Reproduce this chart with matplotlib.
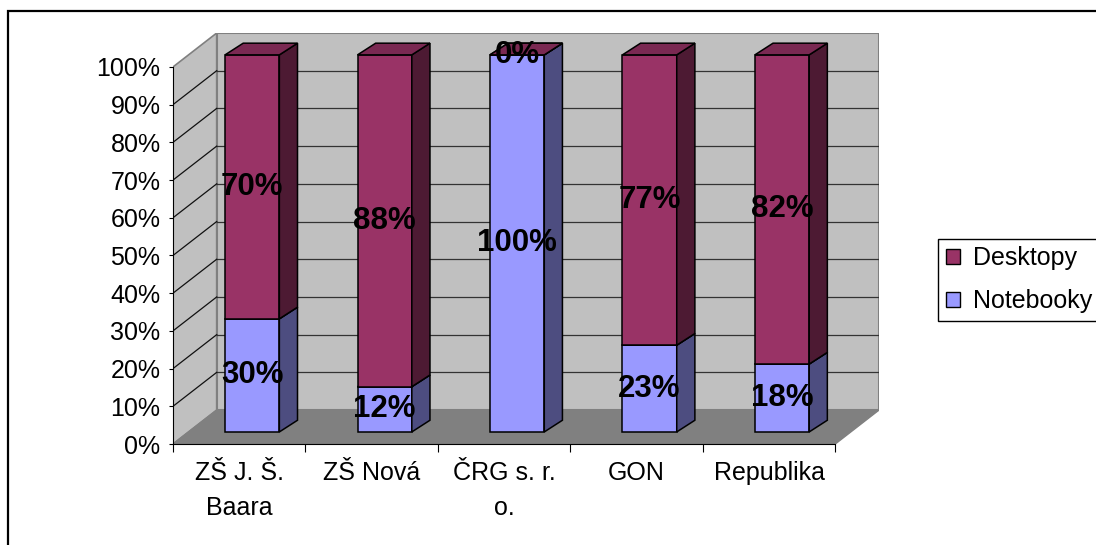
import numpy as np
import matplotlib
matplotlib.use('Agg')
import matplotlib.pyplot as plt
from matplotlib.patches import Patch, Rectangle

plt.rcParams['font.family'] = ['Liberation Sans', 'DejaVu Sans']

# data
categories = ['ZŠ J. Š.\nBaara', 'ZŠ Nová', 'ČRG s. r.\no.', 'GON', 'Republika']
notebooky = [30, 12, 100, 23, 18]
desktopy = [70, 88, 0, 77, 82]
series_names = ['Desktopy', 'Notebooky']
yticks = list(range(0, 101, 10))

# colours (excel 2003 style)
desk_face, desk_side, desk_top = '#993366', '#4d1a33', '#7a2952'
note_face, note_side, note_top = '#9999ff', '#4d4d80', '#7a7acc'
wall_c, floor_c, edge_c = '#c0c0c0', '#808080', '#808080'

# pseudo 3d geometry (data units)
DX, DY = 0.33, 9.0        # depth of the walls
W = 0.41                  # bar width
FX, FY = 0.098, 3.2       # front face offset into depth
SX, SY = 0.137, 3.1       # bar depth

fig = plt.figure(figsize=(10.96, 5.45), dpi=100)
ax = fig.add_axes([173/1096, 101/545, 706/1096, 411/545])
ax.set_xlim(-0.5, 4.5 + DX)
ax.set_ylim(0, 100 + DY)
ax.patch.set_visible(False)

n = len(categories)
x = np.arange(n)
x0, x1 = -0.5, n - 0.5

# walls + floor
ax.fill([x0, x0, x0 + DX, x0 + DX], [0, 100, 100 + DY, DY], wall_c, ec=edge_c, lw=1.2, zorder=0)
ax.fill([x0 + DX, x1 + DX, x1 + DX, x0 + DX], [DY, DY, 100 + DY, 100 + DY], wall_c, ec=edge_c, lw=1.5, zorder=0)
ax.fill([x0, x1, x1 + DX, x0 + DX], [0, 0, DY, DY], floor_c, ec=floor_c, lw=1, zorder=0.5)
for v in yticks[1:-1]:
    ax.plot([x0 + DX, x1 + DX], [v + DY, v + DY], color='#333333', lw=0.9, zorder=0.6)
    ax.plot([x0, x0 + DX], [v, v + DY], color='#111111', lw=0.9, zorder=0.6)


def box(xc, y0, h, face, side, top):
    left = xc - W / 2 + FX
    right = left + W
    b = y0 + FY
    ax.bar(left, h, width=W, bottom=b, align='edge', color=face, edgecolor='black', lw=1.1, zorder=2)
    ax.fill([right, right + SX, right + SX, right], [b, b + SY, b + h + SY, b + h],
            side, ec='black', lw=1.1, zorder=2)
    ax.fill([left, right, right + SX, left + SX], [b + h, b + h, b + h + SY, b + h + SY],
            top, ec='black', lw=1.1, zorder=2)


for i in range(n):
    box(x[i], 0, notebooky[i], note_face, note_side, note_top)
    box(x[i], notebooky[i], desktopy[i], desk_face, desk_side, desk_top)

for i in range(n):
    ax.text(x[i] + FX, notebooky[i] / 2 + FY, f'{notebooky[i]}%', ha='center', va='center',
            fontsize=22.5, fontweight='bold', zorder=5)
    ax.text(x[i] + FX, notebooky[i] + desktopy[i] / 2 + FY, f'{desktopy[i]}%', ha='center', va='center',
            fontsize=22.5, fontweight='bold', zorder=5)

# axes
for s in ['top', 'right']:
    ax.spines[s].set_visible(False)
ax.spines['left'].set_bounds(0, 100)
ax.spines['bottom'].set_bounds(x0, x1)
ax.spines['left'].set_zorder(3)
ax.spines['bottom'].set_zorder(3)
ax.set_yticks(yticks)
ax.set_yticklabels([f'{v}%' for v in yticks], fontsize=18)
ax.tick_params(axis='y', length=3, pad=6)
ax.set_xticks(np.arange(n + 1) - 0.5)
ax.set_xticklabels([])
ax.tick_params(axis='x', which='major', length=6)
ax.set_xticks(x, minor=True)
ax.set_xticklabels(categories, minor=True, fontsize=18, linespacing=1.6)
ax.tick_params(axis='x', which='minor', length=0, pad=12)

fig.legend(handles=[Patch(facecolor=desk_face, edgecolor='black'),
                    Patch(facecolor=note_face, edgecolor='black')],
           labels=series_names, loc='upper left', bbox_to_anchor=(938/1096, 306/545),
           fontsize=18, frameon=True, fancybox=False, edgecolor='black', framealpha=1,
           handlelength=0.56, handleheight=0.56, handletextpad=0.55, labelspacing=0.75,
           borderpad=0.3, borderaxespad=0)

fig.add_artist(Rectangle((8/1096, -0.05), 1.1, (534/545) + 0.05, transform=fig.transFigure,
                         fill=False, ec='black', lw=1.6))

fig.savefig('out.png', dpi=100)
